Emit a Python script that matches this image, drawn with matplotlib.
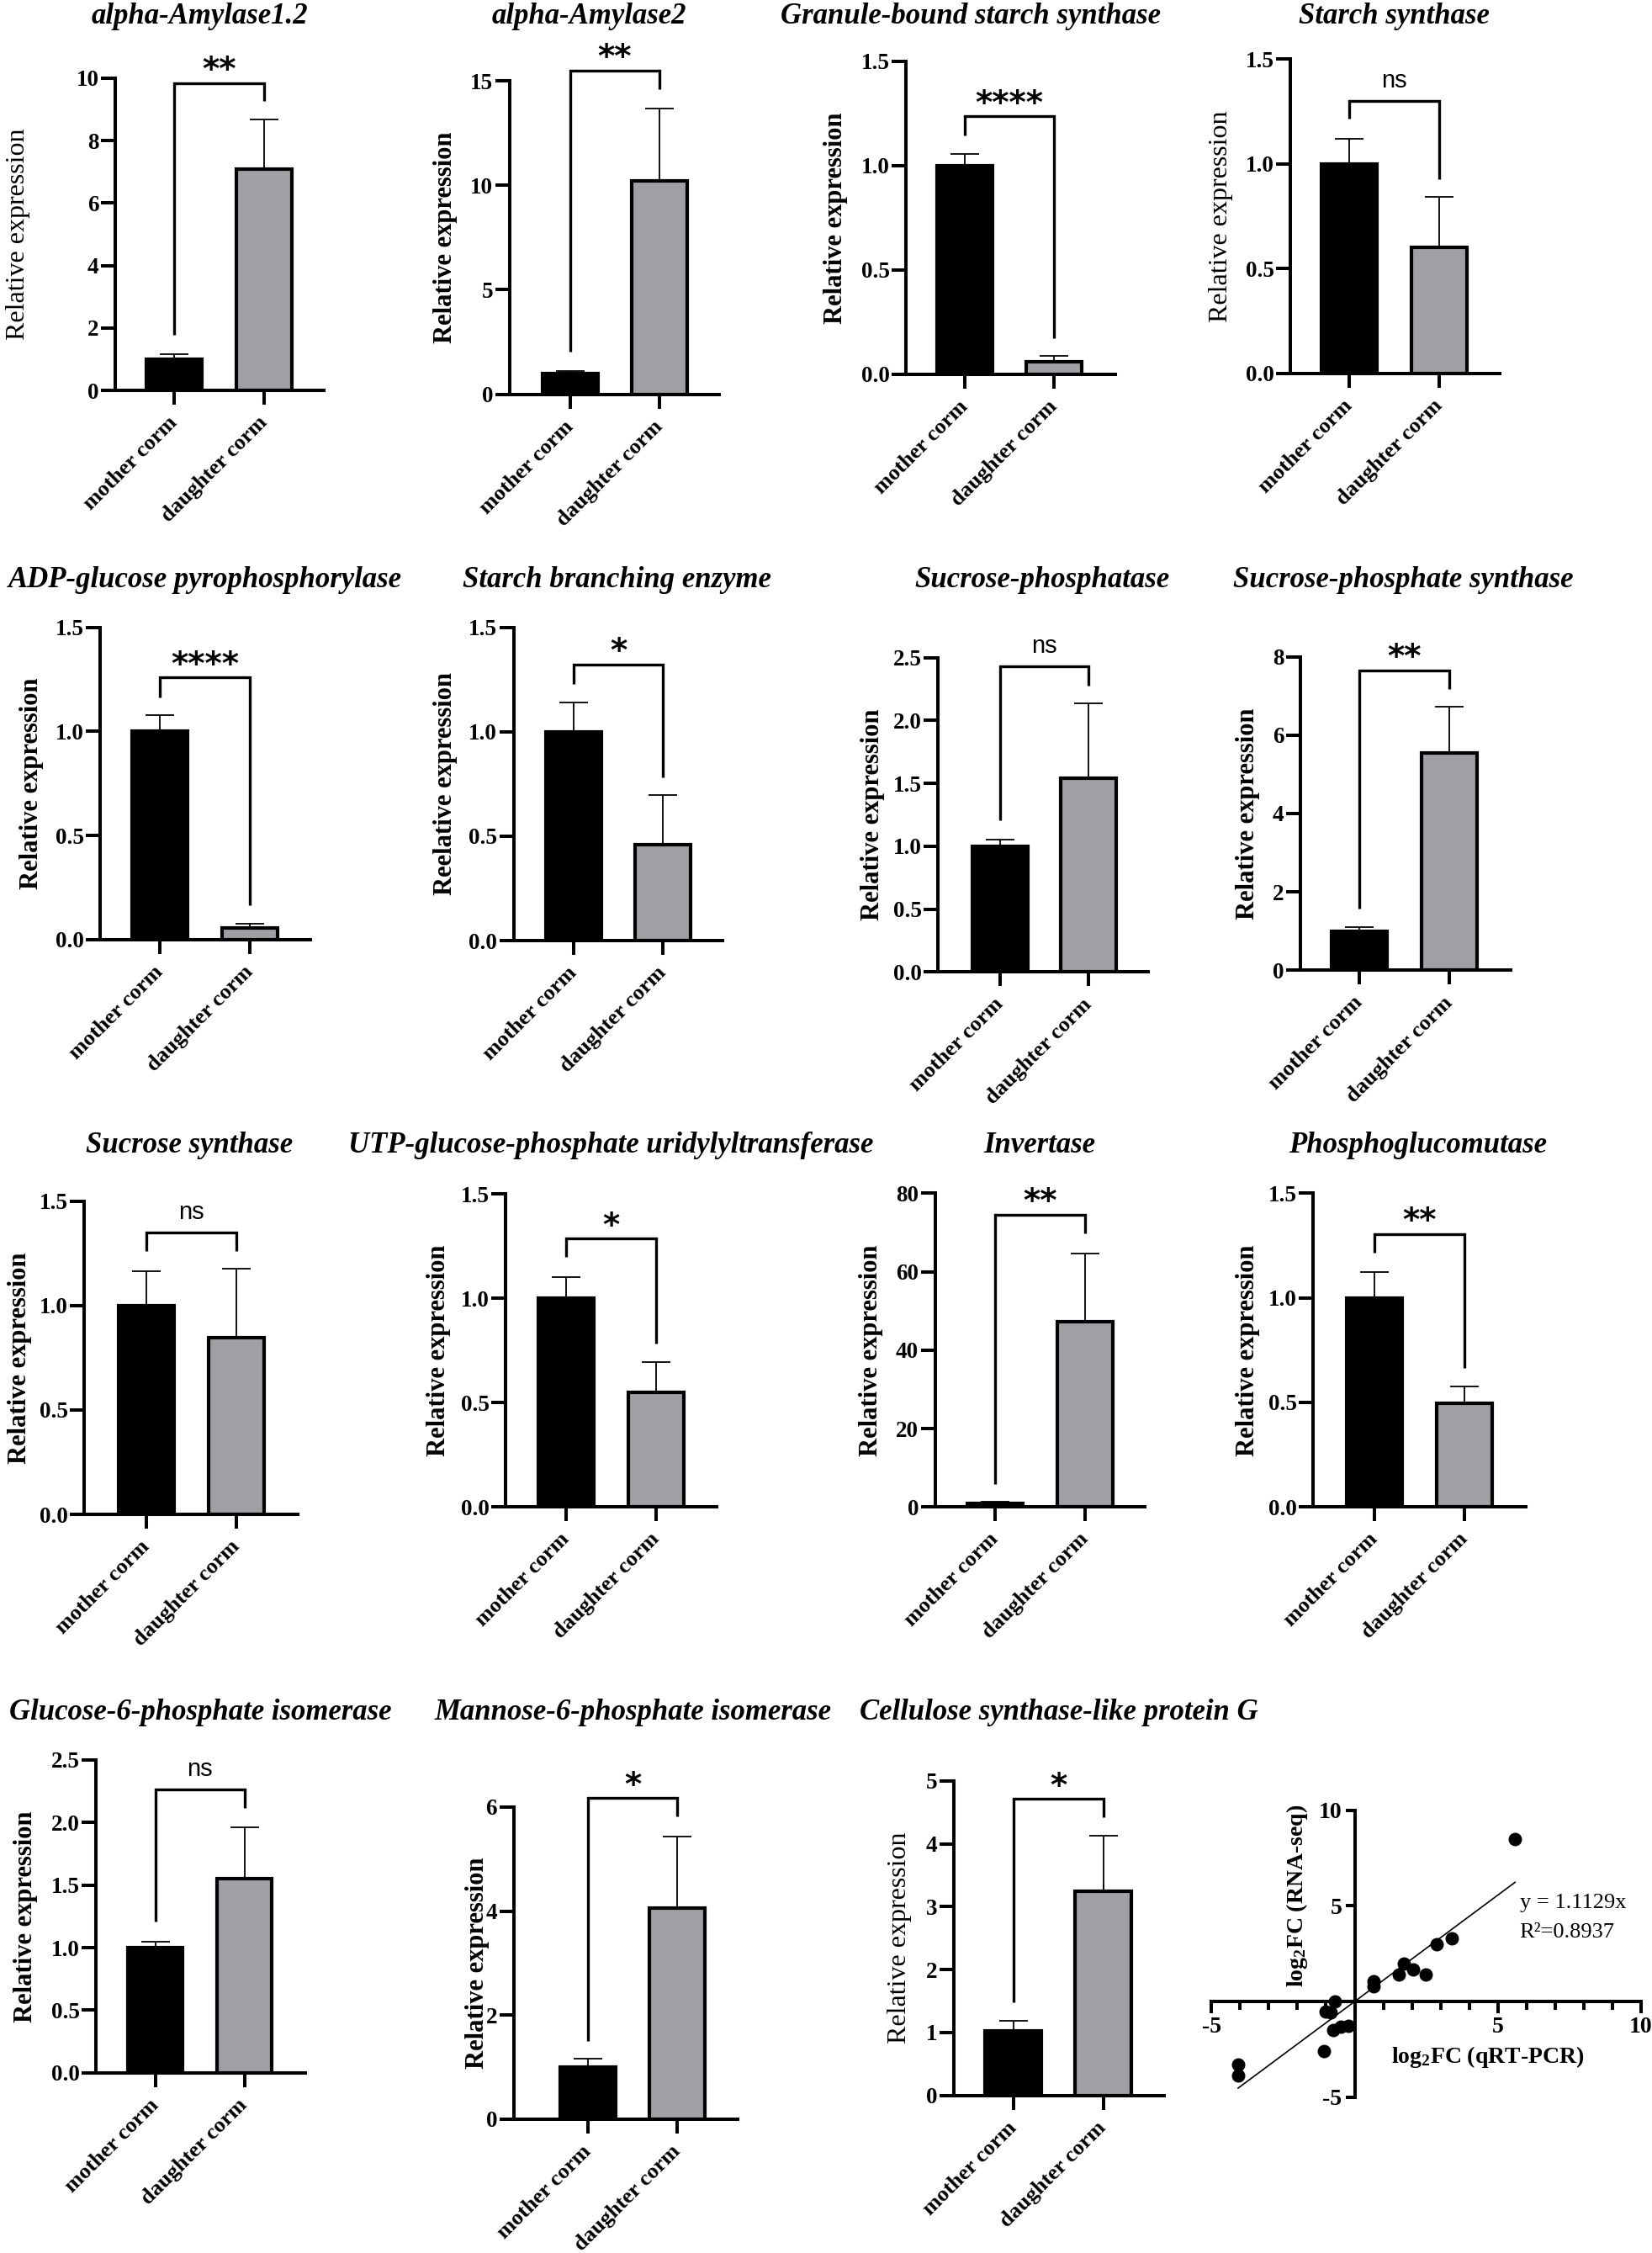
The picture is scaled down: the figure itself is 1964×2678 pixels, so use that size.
import matplotlib
matplotlib.use("Agg")
import matplotlib.pyplot as plt
import numpy as np

# ---------------- data ----------------
titles = ["alpha-Amylase1.2", "alpha-Amylase2", "Granule-bound starch synthase", "Starch synthase",
          "ADP-glucose pyrophosphorylase", "Starch branching enzyme", "Sucrose-phosphatase",
          "Sucrose-phosphate synthase", "Sucrose synthase", "UTP-glucose-phosphate uridylyltransferase",
          "Invertase", "Phosphoglucomutase", "Glucose-6-phosphate isomerase",
          "Mannose-6-phosphate isomerase", "Cellulose synthase-like protein G"]
ylabels = ["Relative expression"] * 5 + ["Reelative expression"] + ["Relative expression"] * 9
categories = ["mother corm", "daughter corm"]
ymax = [10, 15, 1.5, 1.5, 1.5, 1.5, 2.5, 8, 1.5, 1.5, 80, 1.5, 2.5, 6, 5]
ystep = [2, 5, 0.5, 0.5, 0.5, 0.5, 0.5, 2, 0.5, 0.5, 20, 0.5, 0.5, 2, 1]
mother_mean = [1.0, 1.0, 1.0, 1.0, 1.0, 1.0, 1.0, 1.0, 1.0, 1.0, 1.0, 1.0, 1.0, 1.0, 1.03]
mother_err = [0.16, 0.12, 0.056, 0.12, 0.078, 0.14, 0.056, 0.10, 0.165, 0.103, 0.3, 0.123, 0.048, 0.167, 0.16]
daughter_mean = [7.09, 10.2, 0.06, 0.6, 0.055, 0.46, 1.54, 5.55, 0.845, 0.55, 47.3, 0.495, 1.55, 4.06, 3.24]
daughter_err = [1.59, 3.49, 0.028, 0.24, 0.02, 0.235, 0.595, 1.17, 0.33, 0.145, 17.4, 0.08, 0.41, 1.38, 0.89]
signif = ["**", "**", "****", "ns", "****", "*", "ns", "**", "ns", "*", "**", "**", "ns", "*", "*"]
bracket_top = [9.85, 15.5, 1.237, 1.30, 1.258, 1.322, 2.43, 7.65, 1.351, 1.287, 74.6, 1.305, 2.265, 6.17, 4.71]
bracket_left = [1.78, 2.03, 1.144, 1.215, 1.164, 1.23, 1.204, 1.58, 1.262, 1.198, 5.8, 1.217, 1.205, 1.50, 1.485]
bracket_right = [9.27, 14.6, 0.173, 0.926, 0.166, 0.78, 2.28, 7.18, 1.262, 0.783, 69.7, 0.663, 2.114, 5.82, 4.42]

qpcr_fc = [5.60, 3.38, 2.85, 1.72, 2.04, 1.53, 2.48, 0.67, 0.67, -0.69, -1.00, -0.85, -0.74, -0.48, -0.23,
           -1.08, -4.07, -4.07]
rnaseq_fc = [8.47, 3.28, 2.99, 2.00, 1.68, 1.42, 1.39, 1.05, 0.80, 0.00, -0.51, -0.58, -1.50, -1.34, -1.28,
             -2.60, -3.28, -3.87]
fit_slope = 1.1129
fit_r2 = 0.8937

# ---------------- layout (pixels) ----------------
W, H, DPI = 1964, 2678, 100
# spine x, axis end x, top y, bottom y, bar1 centre x, bar2 centre x
LAYOUT = [
    (137, 385, 93, 464, 207, 314),
    (605.5, 855, 96, 468.6, 678, 784),
    (1077, 1326, 72.7, 445, 1147, 1253),
    (1534, 1783, 70, 443.7, 1604, 1711),
    (119, 369, 745.6, 1116.8, 190, 297),
    (610.5, 859, 745.6, 1118, 682, 788),
    (1115.4, 1365, 781.7, 1155.4, 1189, 1294),
    (1545.6, 1796, 780.5, 1153.4, 1616, 1723),
    (100, 354, 1427.6, 1800, 174, 281),
    (601, 851.6, 1419.2, 1791.2, 673, 780),
    (1111.6, 1361, 1418.4, 1791.2, 1183, 1290),
    (1561, 1813.6, 1418.4, 1791.2, 1634, 1741),
    (114, 363, 2091.7, 2463.9, 184.6, 290.6),
    (610.5, 876.6, 2147.9, 2518.8, 699, 805),
    (1133.7, 1383.7, 2116.7, 2490.7, 1204.5, 1311.5),
]
TITLE_POS = [(237, 20), (700, 20), (1154, 20), (1657, 19), (244, 690), (733, 690), (1239, 690), (1668, 690),
             (225, 1362), (726, 1362), (1236, 1362), (1686, 1362), (238, 2035), (752, 2035), (1259, 2035)]
YLABEL_X = [22, 529, 993, 1452, 38, 529, 1037, 1483, 24, 521, 1035, 1483, 31, 567, 1070]
YLABEL_BOLD = [False, True, True, False, True, True, True, True, True, True, True, True, True, True, False]

plt.rcParams['font.family'] = ['Liberation Serif', 'DejaVu Serif']
plt.rcParams['mathtext.fontset'] = 'custom'
plt.rcParams['mathtext.rm'] = 'Liberation Serif:bold'
plt.rcParams['mathtext.bf'] = 'Liberation Serif:bold'
plt.rcParams['mathtext.it'] = 'Liberation Serif:bold'

fig = plt.figure(figsize=(W / DPI, H / DPI), dpi=DPI)
fig.patch.set_facecolor('white')


def rect(l, r, t, b):
    return [l / W, 1 - b / H, (r - l) / W, (b - t) / H]


LW = 2.9
GRAY = '#a0a0a4'

for i in range(15):
    l, r, t, b, c1, c2 = LAYOUT[i]
    ax = fig.add_axes(rect(l, r, t, b))
    d = c2 - c1
    ax.set_xlim(-(c1 - l) / d, 1 + (r - c2) / d)
    ax.set_ylim(0, ymax[i])
    means = [mother_mean[i], daughter_mean[i]]
    ax.errorbar([0, 1], means, yerr=[[0, 0], [mother_err[i], daughter_err[i]]], fmt='none',
                ecolor='black', elinewidth=1.3, capsize=12, capthick=1.3, zorder=2, clip_on=False)
    ax.bar([0, 1], means, width=0.62, color=['black', GRAY], edgecolor='black', linewidth=3.0, zorder=3)
    for s in ['top', 'right']:
        ax.spines[s].set_visible(False)
    for s in ['left', 'bottom']:
        ax.spines[s].set_linewidth(LW)
        ax.spines[s].set_capstyle('projecting')
    yt = np.arange(0, ymax[i] + ystep[i] / 2, ystep[i])
    fmt = '%.1f' if ystep[i] < 1 else '%d'
    ax.set_yticks(yt)
    ax.set_yticklabels([fmt % v for v in yt], fontweight='bold', fontsize=19.5)
    ax.set_xticks([0, 1])
    ax.set_xticklabels(categories, rotation=45, ha='right', va='center', rotation_mode='anchor',
                       fontweight='bold', fontsize=19)
    ax.tick_params(axis='y', direction='out', length=12, width=LW, pad=2)
    ax.tick_params(axis='x', direction='out', length=12, width=LW, pad=13)
    # significance bracket
    ax.plot([0, 0, 1, 1], [bracket_left[i], bracket_top[i], bracket_top[i], bracket_right[i]],
            color='black', lw=2.4, clip_on=False, solid_joinstyle='miter', solid_capstyle='butt', zorder=4)
    if signif[i] == 'ns':
        ax.annotate('ns', xy=(0.5, bracket_top[i]), xytext=(0, 11.5), textcoords='offset points',
                    ha='center', va='baseline', fontsize=21, family='Liberation Sans', annotation_clip=False)
    else:
        ax.annotate(signif[i], xy=(0.5, bracket_top[i]), xytext=(0, 2.5), textcoords='offset points',
                    ha='center', va='baseline', fontsize=28, family='DejaVu Sans', fontweight='bold',
                    annotation_clip=False)
    # title and y label
    tx, ty = TITLE_POS[i]
    fig.text(tx / W, 1 - ty / H, titles[i], ha='center', va='center', fontsize=25,
             fontweight='bold', fontstyle='italic')
    fig.text(YLABEL_X[i] / W, 1 - ((t + b) / 2) / H, ylabels[i], rotation=90, ha='center', va='center',
             fontsize=22 if YLABEL_BOLD[i] else 23, fontweight='bold' if YLABEL_BOLD[i] else 'normal')

# ---------------- correlation panel ----------------
ax = fig.add_axes(rect(1440.3, 1951, 2151.7, 2492.7))
ax.set_xlim(-5, 10)
ax.set_ylim(-5, 10)
for s in ['top', 'right']:
    ax.spines[s].set_visible(False)
for s in ['left', 'bottom']:
    ax.spines[s].set_position(('data', 0))
    ax.spines[s].set_linewidth(LW)
ax.set_xticks([-5, 0, 5, 10])
ax.set_xticklabels(['-5', '', '5', '10'], fontweight='bold', fontsize=20)
ax.set_xticks(np.arange(-5, 11, 1), minor=True)
ax.set_yticks([-5, 0, 5, 10])
ax.set_yticklabels(['-5', '', '5', '10'], fontweight='bold', fontsize=20)
ax.tick_params(axis='x', which='major', direction='out', length=10, width=LW, pad=3)
ax.tick_params(axis='x', which='minor', direction='out', length=7, width=LW)
ax.tick_params(axis='y', which='major', direction='out', length=8, width=LW, pad=3)
ax.scatter(qpcr_fc, rnaseq_fc, s=110, color='black', zorder=3, clip_on=False)
xs = np.array([min(qpcr_fc), max(qpcr_fc)])
ax.plot(xs, fit_slope * xs, color='black', lw=1.2, zorder=2)
ax.text(5.76, 5.16, 'y = %.4fx' % fit_slope, ha='left', va='center', fontsize=19)
ax.text(5.76, 3.62, 'R\u00b2=%.4f' % fit_r2, ha='left', va='center', fontsize=19)
fig.text(1542 / W, 1 - 2253 / H, r'log$_{2}$FC (RNA-seq)', rotation=90, ha='center', va='center',
         fontsize=20, fontweight='bold')
fig.text(1769 / W, 1 - 2445 / H, r'log$_{2}$FC (qRT-PCR)', ha='center', va='center',
         fontsize=20, fontweight='bold')

fig.savefig('out.png', dpi=DPI, facecolor='white')
